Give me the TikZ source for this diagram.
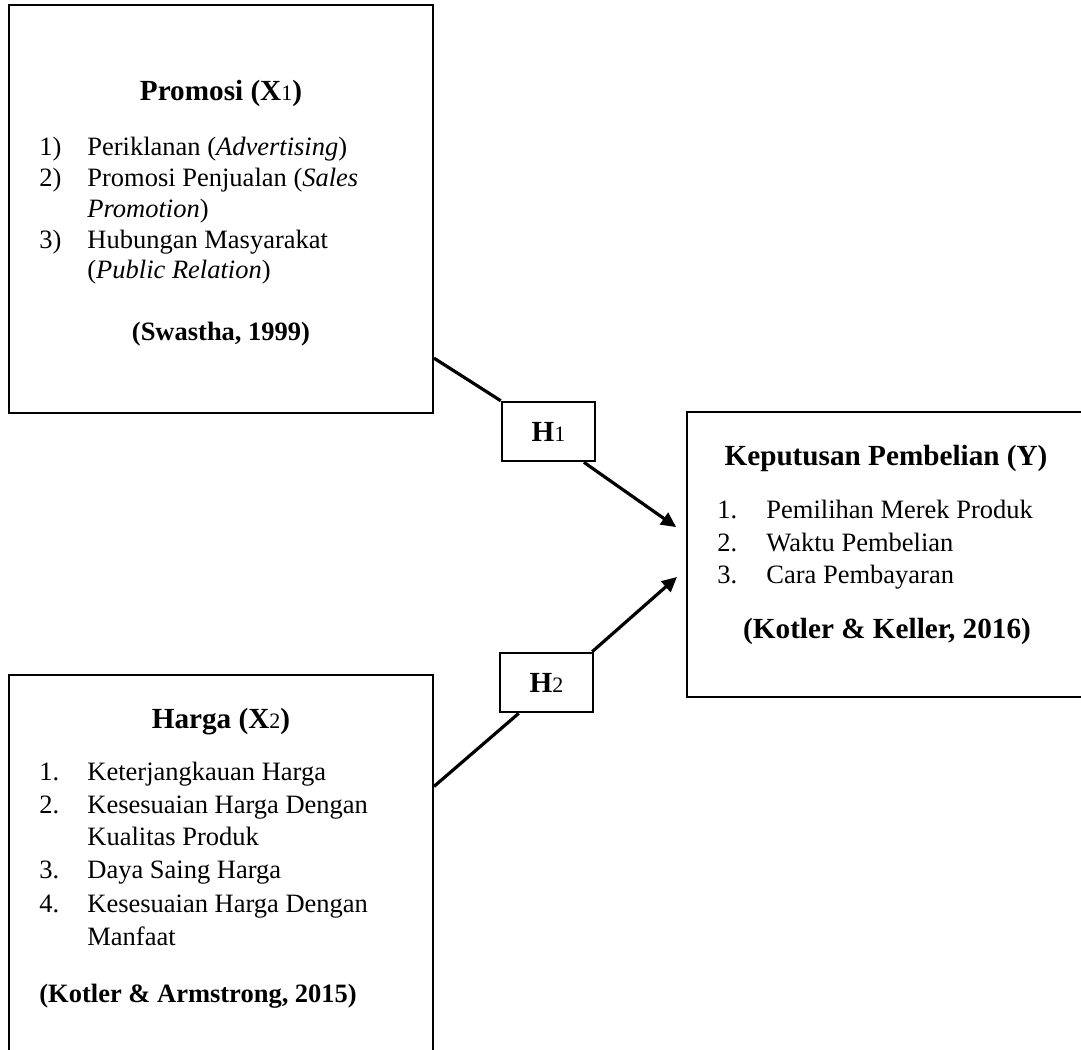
\documentclass[tikz,border=0pt]{standalone}
\usepackage{fontspec}
\setmainfont{Liberation Serif}
\usetikzlibrary{arrows.meta}
\newcommand{\sdig}[1]{{\fontsize{11}{11}\selectfont\mdseries #1}}
\tikzset{
	varbox/.style={draw,line width=1pt,rectangle,inner sep=0pt},
	hbox/.style={draw,line width=1.3pt,rectangle,minimum width=46.5pt,minimum height=29.5pt,inner sep=0pt,font=\fontsize{14.6}{17}\selectfont\bfseries},
	judul/.style={anchor=base,inner sep=0pt,font=\fontsize{14.6}{17}\selectfont\bfseries},
	butir/.style={anchor=base west,inner sep=0pt,font=\fontsize{13.25}{16}\selectfont},
	sumber/.style={anchor=base,inner sep=0pt,font=\fontsize{13.25}{16}\selectfont\bfseries},
	garis/.style={line width=1.6pt},
	panah/.style={line width=1.6pt,-{Triangle[length=7.5pt,width=7pt]},shorten >=6pt}
}
\begin{document}
\begin{tikzpicture}[x=0.5pt,y=-0.5pt]
		\clip (0,0) rectangle (1081,1049);
		\fill[white] (0,0) rectangle (1081,1049);
		% kotak variabel
		\node[varbox,minimum width=212pt,minimum height=204pt] (x1) at (221,209) {};
		\node[varbox,minimum width=212pt,minimum height=197.5pt] (x2) at (221,872.5) {};
		\node[varbox,minimum width=204pt,minimum height=142.5pt] (ybox) at (891,554.5) {};
		\node[hbox] (h1) at (548.5,431.5) {H\sdig{1}};
		\node[hbox] (h2) at (546.5,682.5) {H\sdig{2}};
		% promosi
		\node[judul] (x1judul) at (221,100) {Promosi (X\sdig{1})};
		\node[butir] (x1n1) at (39,155) {1)};
		\node[butir] (x1t1) at (87,155) {Periklanan (\textit{Advertising})};
		\node[butir] (x1n2) at (39,186) {2)};
		\node[butir] (x1t2) at (87,186) {Promosi Penjualan (\textit{Sales}};
		\node[butir] (x1t2b) at (87,217) {\textit{Promotion})};
		\node[butir] (x1n3) at (39,248) {3)};
		\node[butir] (x1t3) at (87,248) {Hubungan Masyarakat};
		\node[butir] (x1t3b) at (87,278) {(\textit{Public Relation})};
		\node[sumber] (x1sumber) at (221,340) {(Swastha, 1999)};
		% harga
		\node[judul] (x2judul) at (221,728) {Harga (X\sdig{2})};
		\node[butir] (x2n1) at (39,780) {1.};
		\node[butir] (x2t1) at (87,780) {Keterjangkauan Harga};
		\node[butir] (x2n2) at (39,813) {2.};
		\node[butir] (x2t2) at (87,813) {Kesesuaian Harga Dengan};
		\node[butir] (x2t2b) at (87,845) {Kualitas Produk};
		\node[butir] (x2n3) at (39,878) {3.};
		\node[butir] (x2t3) at (87,878) {Daya Saing Harga};
		\node[butir] (x2n4) at (39,912) {4.};
		\node[butir] (x2t4) at (87,912) {Kesesuaian Harga Dengan};
		\node[butir] (x2t4b) at (87,945) {Manfaat};
		\node[sumber,anchor=base west] (x2sumber) at (39,1002) {(Kotler \& Armstrong, 2015)};
		% keputusan pembelian
		\node[judul] (yjudul) at (886,465) {Keputusan Pembelian (Y)};
		\node[butir] (yn1) at (717,518) {1.};
		\node[butir] (yt1) at (766,518) {Pemilihan Merek Produk};
		\node[butir] (yn2) at (717,551) {2.};
		\node[butir] (yt2) at (766,551) {Waktu Pembelian};
		\node[butir] (yn3) at (717,583) {3.};
		\node[butir] (yt3) at (766,583) {Cara Pembayaran};
		\node[judul] (ysumber) at (887,638) {(Kotler \& Keller, 2016)};
		% hubungan
		\draw[garis] (x1.-35) -- (h1.north west);
		\draw[panah] (h1.-41) -- ([yshift=10.25pt]ybox.west);
		\draw[garis] (x2.22) -- (h2.-132);
		\draw[panah] (h2.34) -- ([yshift=-7.25pt]ybox.west);
	\end{tikzpicture}
\end{document}
